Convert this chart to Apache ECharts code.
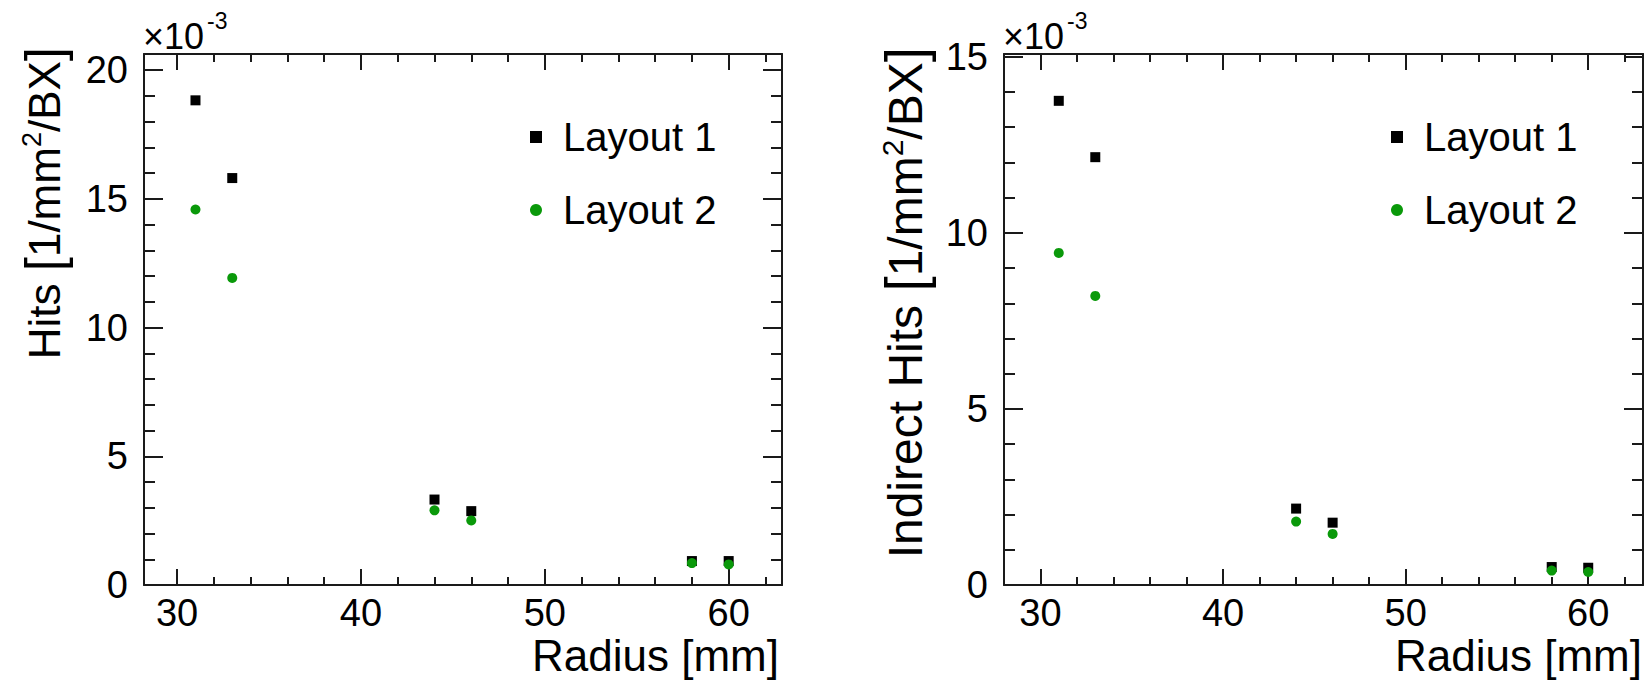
<!DOCTYPE html>
<html>
<head>
<meta charset="utf-8">
<title>Hits vs Radius</title>
<script src="https://cdn.jsdelivr.net/npm/echarts@6.0.0/dist/echarts.min.js"></script>
<style>
  html, body { margin: 0; padding: 0; background: #fff; }
  #chart { width: 1646px; height: 687px; }
</style>
</head>
<body>
<div id="chart"></div>
<script>
// values, y in units of 1e-3 hits / mm^2 / BX
const radius = [31, 33, 44, 46, 58, 60]
const hitsLayout1 = [18.83, 15.81, 3.32, 2.87, 0.93, 0.93]
const hitsLayout2 = [14.59, 11.93, 2.90, 2.51, 0.85, 0.80]
const indirectLayout1 = [13.75, 12.15, 2.17, 1.77, 0.51, 0.49]
const indirectLayout2 = [9.43, 8.21, 1.80, 1.45, 0.41, 0.37]

const xTicks = [30, 40, 50, 60]
const hitsTicks = [0, 5, 10, 15, 20]
const indirectTicks = [0, 5, 10, 15]

const FONT = '"Liberation Sans", Arial, sans-serif'
const INK = '#1a1a1a'
const GREEN = '#0a990a'

const pairs = (xs, ys) => xs.map((x, i) => [x, ys[i]])

const myChart = echarts.init(document.getElementById('chart'), null, { renderer: 'svg' })

const grids = [
  { left: 144, top: 54, width: 638, height: 531 },
  { left: 1004, top: 54, width: 639, height: 531 }
]

const xRange = [[28.2, 62.9], [28.0, 63.0]]
const yRange = [[0, 20.63], [0, 15.08]]
const yTicksList = [hitsTicks, indirectTicks]

const xAxes = []
const yAxes = []
grids.forEach((g, gi) => {
  ['bottom', 'top'].forEach(pos => {
    xAxes.push({
      type: 'value',
      gridIndex: gi,
      position: pos,
      min: xRange[gi][0],
      max: xRange[gi][1],
      splitNumber: 4,
      axisLine: { show: true, onZero: false, lineStyle: { color: INK, width: 2 } },
      axisTick: { show: true, inside: true, length: 16, customValues: xTicks, lineStyle: { color: INK, width: 2 } },
      minorTick: { show: true, splitNumber: 5, length: 8, lineStyle: { color: INK, width: 2 } },
      axisLabel: {
        show: pos === 'bottom',
        customValues: xTicks,
        margin: 9,
        fontSize: 38,
        fontFamily: FONT,
        color: '#000'
      },
      splitLine: { show: false }
    })
  })
  ;['left', 'right'].forEach(pos => {
    yAxes.push({
      type: 'value',
      gridIndex: gi,
      position: pos,
      min: yRange[gi][0],
      max: yRange[gi][1],
      interval: 5,
      axisLine: { show: true, onZero: false, lineStyle: { color: INK, width: 2 } },
      axisTick: { show: true, inside: true, length: 19, customValues: yTicksList[gi], lineStyle: { color: INK, width: 2 } },
      minorTick: { show: true, splitNumber: 5, length: 11, lineStyle: { color: INK, width: 2 } },
      axisLabel: {
        show: pos === 'left',
        customValues: yTicksList[gi],
        margin: 16,
        fontSize: 38,
        fontFamily: FONT,
        color: '#000'
      },
      splitLine: { show: false }
    })
  })
})

const scatter = (name, gi, ys, symbol, color) => ({
  name: name,
  type: 'scatter',
  xAxisIndex: gi * 2,
  yAxisIndex: gi * 2,
  symbol: symbol,
  symbolSize: 10,
  itemStyle: { color: color, opacity: 1 },
  data: pairs(radius, ys)
})

const legendFor = left => ({
  orient: 'vertical',
  left: left,
  top: 112,
  itemWidth: 12,
  itemHeight: 12,
  itemGap: 33,
  selectedMode: false,
  data: [
    { name: 'Layout 1', icon: 'rect' },
    { name: 'Layout 2', icon: 'circle' }
  ],
  textStyle: { fontSize: 40, lineHeight: 40, fontFamily: FONT, color: '#000', padding: [0, 0, 0, 16] }
})

const yTitle = (x, label, size) => ({
  type: 'text',
  x: x,
  y: 47,
  rotation: Math.PI / 2,
  style: {
    text: '{t|' + label + ' }{br|[}{t|1/mm}{sup|2}{t|/BX}{br|]}',
    rich: {
      t: { fontSize: size, fontFamily: FONT, color: '#000' },
      br: { fontSize: size + 7, fontFamily: FONT, color: '#000' },
      sup: { fontSize: Math.round(size * 0.62), fontFamily: FONT, color: '#000', verticalAlign: 'top' }
    },
    align: 'right',
    verticalAlign: 'middle'
  }
})

const plainText = (x, y, text, size, align) => ({
  type: 'text',
  x: x,
  y: y,
  style: { text: text, fontSize: size, fontFamily: FONT, fill: '#000', align: align, verticalAlign: 'middle' }
})

const option = {
  animation: false,
  backgroundColor: '#fff',
  grid: grids,
  xAxis: xAxes,
  yAxis: yAxes,
  legend: [legendFor(525), legendFor(1386)],
  series: [
    scatter('Layout 1', 0, hitsLayout1, 'rect', '#000'),
    scatter('Layout 2', 0, hitsLayout2, 'circle', GREEN),
    scatter('Layout 1', 1, indirectLayout1, 'rect', '#000'),
    scatter('Layout 2', 1, indirectLayout2, 'circle', GREEN)
  ],
  graphic: [
    yTitle(44, 'Hits', 44),
    yTitle(905, 'Indirect Hits', 48),
    plainText(779, 655, 'Radius [mm]', 44, 'right'),
    plainText(1642, 655, 'Radius [mm]', 44, 'right'),
    plainText(143, 36, '×10', 36, 'left'),
    plainText(207, 21, '-3', 23, 'left'),
    plainText(1003, 36, '×10', 36, 'left'),
    plainText(1067, 21, '-3', 23, 'left')
  ]
}

option && myChart.setOption(option)
</script>
</body>
</html>
